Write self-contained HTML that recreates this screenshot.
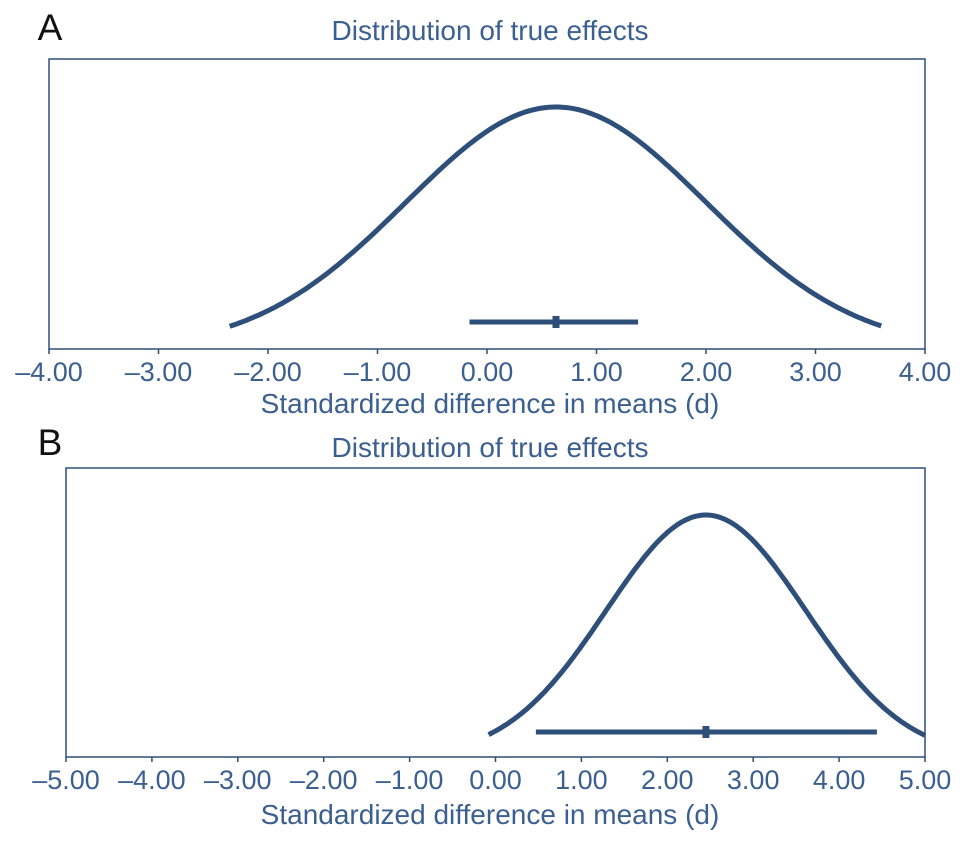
<!DOCTYPE html>
<html><head><meta charset="utf-8"><style>
body{margin:0;background:#fff}
svg{display:block;font-family:"Liberation Sans",sans-serif}
</style></head><body>
<svg id="chart" width="969" height="844"></svg>
<script>
const panelLabels=["A","B"];
const titles=["Distribution of true effects","Distribution of true effects"];
const xTicksA=[-4,-3,-2,-1,0,1,2,3,4];
const xTicksB=[-5,-4,-3,-2,-1,0,1,2,3,4,5];
const meanVals=[0.63,2.45];
const sdVals=[1.37,1.16];
const curveRangeA=[-2.35,3.6];
const curveRangeB=[-0.08,5.0];
const ciA=[-0.16,1.38];
const ciB=[0.47,4.44];
const axisTitle="Standardized difference in means (d)";
const NS="http://www.w3.org/2000/svg";
const svg=document.getElementById('chart');
const C="#2e4f7a", T="#3b5f90";
function mk(t,a,p){const e=document.createElementNS(NS,t);for(const k in a)e.setAttribute(k,a[k]);(p||svg).appendChild(e);return e;}
const panels=[
 {x0:49,top:59,bot:349,ticks:xTicksA,lab:panelLabels[0],title:titles[0],mean:meanVals[0],sd:sdVals[0],rng:curveRangeA,ci:ciA,peakY:107,ciY:322,labY:40,titleY:40,tickY:381,axY:413},
 {x0:66,top:468,bot:757,ticks:xTicksB,lab:panelLabels[1],title:titles[1],mean:meanVals[1],sd:sdVals[1],rng:curveRangeB,ci:ciB,peakY:515,ciY:732,labY:455,titleY:457,tickY:789,axY:824}
];
panels.forEach((p,i)=>{
 const g=mk('g',{});
 
 
 const x0=p.x0,x1=925,lo=p.ticks[0],hi=p.ticks[p.ticks.length-1];
 const xs=v=>x0+(v-lo)/(hi-lo)*(x1-x0);
 const ys=v=>p.bot-(p.bot-p.peakY)*Math.exp(-0.5*Math.pow((v-p.mean)/p.sd,2));
 const box=mk('rect',{x:x0,y:p.top,width:x1-x0,height:p.bot-p.top,fill:'none',stroke:C,'stroke-width':1.5},g);
 
 const pl=mk('text',{x:50,y:p.labY,'font-size':37,fill:'#111','text-anchor':'middle'},g);pl.textContent=p.lab;
 
 const tt=mk('text',{x:490,y:p.titleY,'font-size':28,fill:T,'text-anchor':'middle'},g);tt.textContent=p.title;
 
 p.ticks.forEach(v=>{
  mk('line',{x1:xs(v),x2:xs(v),y1:p.bot,y2:p.bot+5,stroke:C,'stroke-width':1.5},g);
  const t=mk('text',{x:xs(v),y:p.tickY,'font-size':27,fill:T,'text-anchor':'middle'},g);
  t.textContent=(v<0?'\u2013'+Math.abs(v).toFixed(2):v.toFixed(2));
  
 });
 const at=mk('text',{x:490,y:p.axY,'font-size':28,fill:T,'text-anchor':'middle'},g);at.textContent=axisTitle;
 
 let d='';const n=200;
 for(let k=0;k<=n;k++){const v=p.rng[0]+(p.rng[1]-p.rng[0])*k/n;d+=(k?'L':'M')+xs(v).toFixed(1)+','+ys(v).toFixed(1);}
 const cv=mk('path',{d:d,fill:'none',stroke:C,'stroke-width':5},g);
 
 const ci=mk('line',{x1:xs(p.ci[0]),x2:xs(p.ci[1]),y1:p.ciY,y2:p.ciY,stroke:C,'stroke-width':5},g);
 
 const m=mk('rect',{x:xs(p.mean)-3.5,y:p.ciY-6,width:7,height:12,fill:C},g);
 
});
</script>
</body></html>
